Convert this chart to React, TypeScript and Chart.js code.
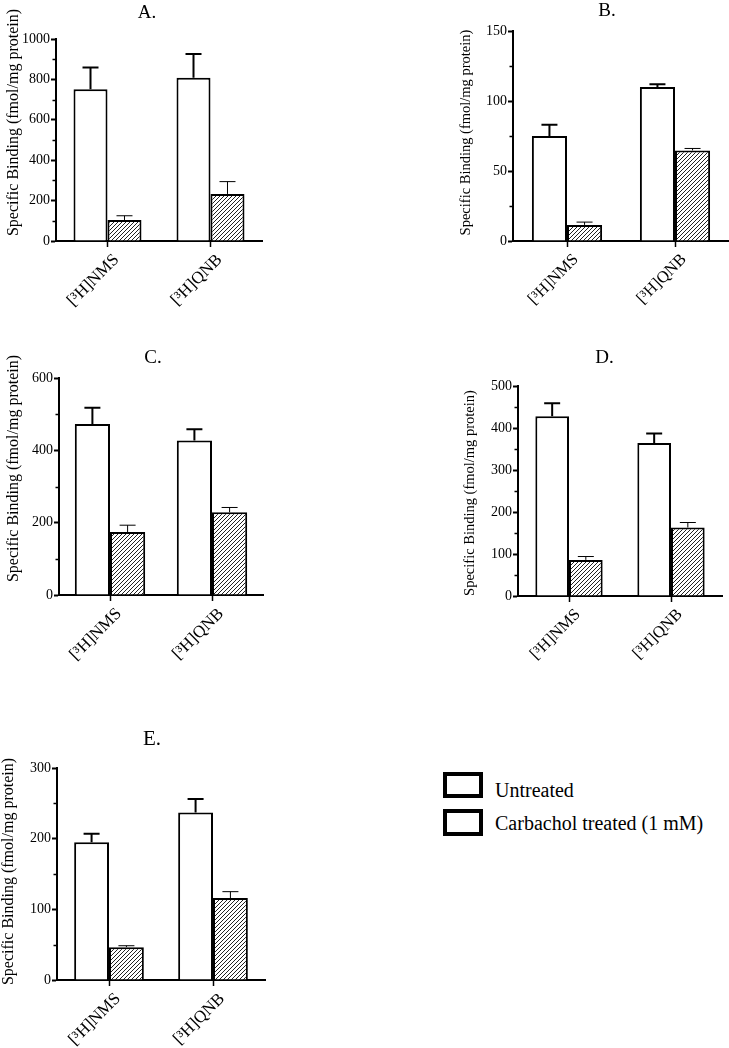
import React, { useEffect, useRef } from 'react';
import { Chart, registerables } from 'chart.js';

Chart.register(...registerables);

const FONT = "'Liberation Serif', 'Times New Roman', serif";
Chart.defaults.font.family = FONT;

// ---- data ----
const categories = ['[³H]NMS', '[³H]QNB'];
const seriesLabels = ['Untreated', 'Carbachol treated (1 mM)'];

const panelA_untreated = [751, 808];
const panelA_untreatedSem = [108, 118];
const panelA_treated = [104, 233];
const panelA_treatedSem = [21, 61];
const panelA_yTicks = [0, 200, 400, 600, 800, 1000];

const panelB_untreated = [75, 110];
const panelB_untreatedSem = [8, 2];
const panelB_treated = [11.5, 64.7];
const panelB_treatedSem = [2, 1.4];
const panelB_yTicks = [0, 50, 100, 150];

const panelC_untreated = [473, 427];
const panelC_untreatedSem = [45, 31];
const panelC_treated = [174, 229];
const panelC_treatedSem = [19, 13];
const panelC_yTicks = [0, 200, 400, 600];

const panelD_untreated = [428, 364];
const panelD_untreatedSem = [31, 23];
const panelD_treated = [86, 163];
const panelD_treatedSem = [8, 12];
const panelD_yTicks = [0, 100, 200, 300, 400, 500];

const panelE_untreated = [195, 237];
const panelE_untreatedSem = [12, 19];
const panelE_treated = [46.5, 116];
const panelE_treatedSem = [2, 9];
const panelE_yTicks = [0, 100, 200, 300];

const yTitle = 'Specific Binding (fmol/mg protein)';

type PanelCfg = {
  key: string;
  title: string;
  untreated: number[];
  untreatedSem: number[];
  treated: number[];
  treatedSem: number[];
  yTicks: number[];
  left: number; top: number; w: number; h: number;
  yW: number; padTop: number; padRight: number; xH: number;
  catPct: number;
  titlePos: [number, number]; titleSize: number;
  yTitlePos: [number, number]; yTitleSize: number;
  tickSize: number; xLabelSize: number;
};

const panels: PanelCfg[] = [
  {
    key: 'A', title: 'A.', untreated: panelA_untreated, untreatedSem: panelA_untreatedSem,
    treated: panelA_treated, treatedSem: panelA_treatedSem, yTicks: panelA_yTicks,
    left: 0, top: 0, w: 270, h: 330, yW: 56, padTop: 39, padRight: 8, xH: 89, catPct: 0.66,
    titlePos: [147, 13], titleSize: 19, yTitlePos: [13.5, 122.5], yTitleSize: 16, tickSize: 14, xLabelSize: 17,
  },
  {
    key: 'B', title: 'B.', untreated: panelB_untreated, untreatedSem: panelB_untreatedSem,
    treated: panelB_treated, treatedSem: panelB_treatedSem, yTicks: panelB_yTicks,
    left: 440, top: 0, w: 289, h: 330, yW: 73, padTop: 31, padRight: 0, xH: 89, catPct: 0.65,
    titlePos: [167, 11], titleSize: 19, yTitlePos: [26, 132.5], yTitleSize: 14.5, tickSize: 14, xLabelSize: 16.5,
  },
  {
    key: 'C', title: 'C.', untreated: panelC_untreated, untreatedSem: panelC_untreatedSem,
    treated: panelC_treated, treatedSem: panelC_treatedSem, yTicks: panelC_yTicks,
    left: 0, top: 340, w: 270, h: 330, yW: 59, padTop: 38, padRight: 7, xH: 75, catPct: 0.69,
    titlePos: [153, 18.5], titleSize: 19, yTitlePos: [13.5, 128.5], yTitleSize: 16, tickSize: 14, xLabelSize: 17,
  },
  {
    key: 'D', title: 'D.', untreated: panelD_untreated, untreatedSem: panelD_untreatedSem,
    treated: panelD_treated, treatedSem: panelD_treatedSem, yTicks: panelD_yTicks,
    left: 440, top: 340, w: 289, h: 330, yW: 78, padTop: 46, padRight: 7, xH: 74, catPct: 0.66,
    titlePos: [164.5, 18.5], titleSize: 19, yTitlePos: [30, 153], yTitleSize: 14.5, tickSize: 14, xLabelSize: 16.5,
  },
  {
    key: 'E', title: 'E.', untreated: panelE_untreated, untreatedSem: panelE_untreatedSem,
    treated: panelE_treated, treatedSem: panelE_treatedSem, yTicks: panelE_yTicks,
    left: 0, top: 715, w: 270, h: 333, yW: 57, padTop: 53, padRight: 5, xH: 68, catPct: 0.67,
    titlePos: [152, 24], titleSize: 21, yTitlePos: [8.5, 156.5], yTitleSize: 16, tickSize: 14, xLabelSize: 17,
  },
];

function makeHatch(): CanvasPattern | string {
  const c = document.createElement('canvas');
  c.width = 4; c.height = 4;
  const g = c.getContext('2d');
  if (!g) return '#888';
  g.fillStyle = '#ffffff';
  g.fillRect(0, 0, 4, 4);
  g.strokeStyle = '#222222';
  g.lineWidth = 1;
  g.beginPath();
  g.moveTo(0, 4); g.lineTo(4, 0);
  g.moveTo(-1, 1); g.lineTo(1, -1);
  g.moveTo(3, 5); g.lineTo(5, 3);
  g.stroke();
  return g.createPattern(c, 'repeat') || '#888';
}

// Error bars (upward SEM) drawn from each bar's value through the y scale
const errorBarPlugin = {
  id: 'errorBars',
  afterDatasetsDraw(chart: any) {
    const ctx = chart.ctx;
    const y = chart.scales.y;
    chart.data.datasets.forEach((ds: any, i: number) => {
      const meta = chart.getDatasetMeta(i);
      meta.data.forEach((el: any, j: number) => {
        const v = ds.data[j];
        const e = ds.sem[j];
        const yTop = y.getPixelForValue(v + e);
        const yBar = y.getPixelForValue(v);
        ctx.save();
        ctx.strokeStyle = '#000';
        ctx.lineWidth = ds.errWidth;
        ctx.beginPath();
        ctx.moveTo(el.x, yBar);
        ctx.lineTo(el.x, yTop);
        ctx.moveTo(el.x - 8, yTop);
        ctx.lineTo(el.x + 8, yTop);
        ctx.stroke();
        ctx.restore();
      });
    });
  },
};

// Minor ticks between labelled y ticks
const minorTickPlugin = {
  id: 'minorTicks',
  afterDraw(chart: any, _args: any, opts: any) {
    const ctx = chart.ctx;
    const y = chart.scales.y;
    const left = chart.chartArea.left;
    const step = opts.step;
    ctx.save();
    ctx.strokeStyle = '#000';
    ctx.lineWidth = 1.5;
    ctx.beginPath();
    for (let v = step / 2; v < y.max; v += step) {
      const py = Math.round(y.getPixelForValue(v)) + 0.5;
      ctx.moveTo(left - 3.5, py);
      ctx.lineTo(left, py);
    }
    ctx.stroke();
    ctx.restore();
  },
};

// Panel letter and y-axis title
const panelTextPlugin = {
  id: 'panelText',
  afterDraw(chart: any, _args: any, opts: any) {
    const ctx = chart.ctx;
    (opts.items || []).forEach((it: any) => {
      ctx.save();
      ctx.translate(it.x, it.y);
      ctx.rotate(it.rot || 0);
      ctx.font = `${it.size}px ${FONT}`;
      ctx.fillStyle = '#000';
      ctx.textAlign = 'center';
      ctx.textBaseline = 'middle';
      ctx.fillText(it.text, 0, 0);
      ctx.restore();
    });
  },
};

function Panel({ cfg }: { cfg: PanelCfg }) {
  const ref = useRef<HTMLCanvasElement>(null);
  useEffect(() => {
    if (!ref.current) return;
    const hatch = makeHatch();
    const step = cfg.yTicks[1] - cfg.yTicks[0];
    const max = cfg.yTicks[cfg.yTicks.length - 1];
    const chart = new Chart(ref.current, {
      type: 'bar',
      data: {
        labels: categories,
        datasets: [
          {
            label: seriesLabels[0],
            data: cfg.untreated,
            sem: cfg.untreatedSem,
            errWidth: 2,
            backgroundColor: '#ffffff',
            borderColor: '#000000',
            borderWidth: 2,
            categoryPercentage: cfg.catPct,
            barPercentage: 1.0,
          } as any,
          {
            label: seriesLabels[1],
            data: cfg.treated,
            sem: cfg.treatedSem,
            errWidth: 1,
            backgroundColor: hatch,
            borderColor: '#000000',
            borderWidth: 2,
            categoryPercentage: cfg.catPct,
            barPercentage: 1.0,
          } as any,
        ],
      },
      options: {
        responsive: false,
        animation: false,
        devicePixelRatio: 1,
        layout: { padding: { left: 0, top: cfg.padTop, right: cfg.padRight, bottom: 0 } },
        plugins: {
          legend: { display: false },
          tooltip: { enabled: false },
          minorTicks: { step },
          panelText: {
            items: [
              { text: cfg.title, x: cfg.titlePos[0], y: cfg.titlePos[1], size: cfg.titleSize },
              { text: yTitle, x: cfg.yTitlePos[0], y: cfg.yTitlePos[1], size: cfg.yTitleSize, rot: -Math.PI / 2 },
            ],
          },
        } as any,
        scales: {
          x: {
            type: 'category',
            offset: true,
            grid: { display: true, drawOnChartArea: false, offset: false, tickLength: 6, tickWidth: 1.5, tickColor: '#000' },
            border: { display: true, color: '#000', width: 2 },
            ticks: {
              color: '#000',
              font: { family: FONT, size: cfg.xLabelSize },
              minRotation: 45,
              maxRotation: 45,
              padding: 3,
              labelOffset: 9,
              autoSkip: false,
            },
            afterFit: (s: any) => { s.height = cfg.xH; },
          },
          y: {
            min: 0,
            max,
            ticks: {
              stepSize: step,
              color: '#000',
              font: { family: FONT, size: cfg.tickSize },
              padding: 1,
              callback: (v: any) => String(v),
            },
            grid: { display: true, drawOnChartArea: false, tickLength: 5, tickWidth: 2, tickColor: '#000' },
            border: { display: true, color: '#000', width: 2 },
            afterFit: (s: any) => { s.width = cfg.yW; },
          },
        },
      },
      plugins: [errorBarPlugin, minorTickPlugin, panelTextPlugin],
    } as any);
    return () => chart.destroy();
  }, [cfg]);
  return (
    <canvas
      ref={ref}
      width={cfg.w}
      height={cfg.h}
      style={{ position: 'absolute', left: cfg.left, top: cfg.top, width: cfg.w, height: cfg.h }}
    />
  );
}

export default function App() {
  const legendText: React.CSSProperties = {
    position: 'absolute', left: 495, fontFamily: FONT, fontSize: 20, lineHeight: '24px', color: '#000', whiteSpace: 'nowrap',
  };
  const box: React.CSSProperties = {
    position: 'absolute', left: 443, width: 40, border: '4px solid #000', boxSizing: 'border-box', background: '#fff',
  };
  return (
    <div style={{ position: 'absolute', left: 0, top: 0, width: 729, height: 1048, background: '#fff', overflow: 'hidden' }}>
      {panels.map((p) => <Panel key={p.key} cfg={p} />)}
      <div style={{ ...box, top: 772, height: 26 }} />
      <div style={{ ...legendText, top: 778 }}>{seriesLabels[0]}</div>
      <div style={{ ...box, top: 809, height: 27 }} />
      <div style={{ ...legendText, top: 811 }}>{seriesLabels[1]}</div>
    </div>
  );
}
